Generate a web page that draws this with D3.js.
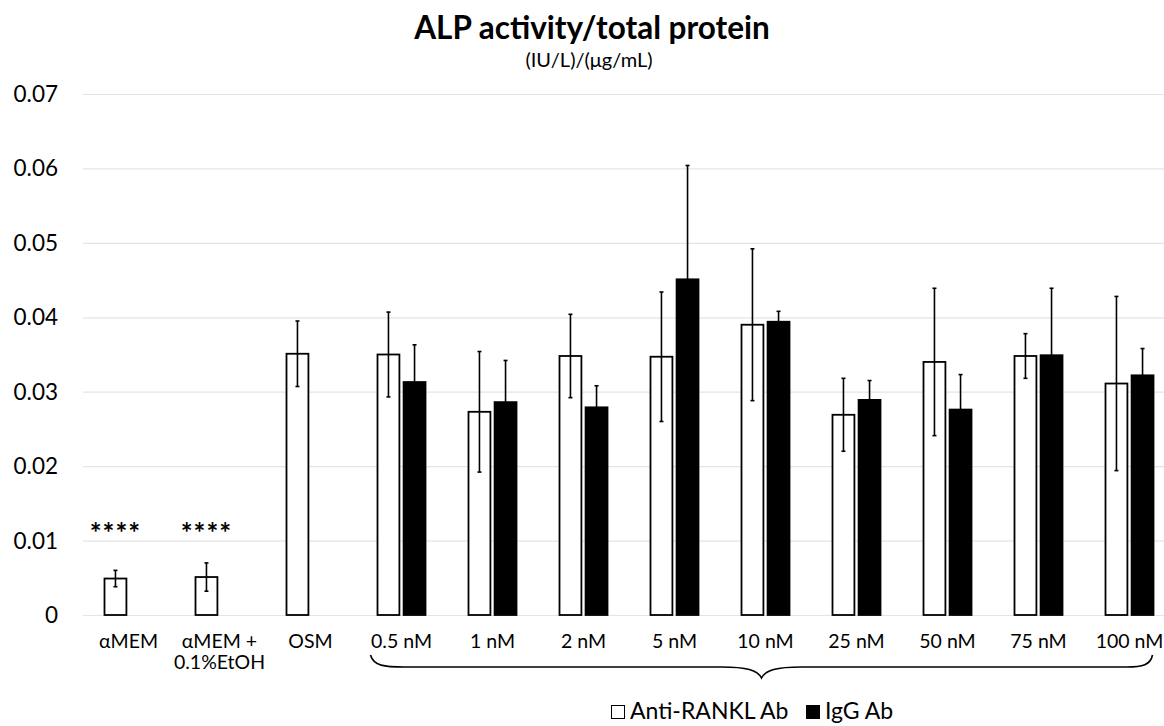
<!DOCTYPE html>
<html>
<head>
<meta charset="utf-8">
<script src="https://cdn.jsdelivr.net/npm/d3@7"></script>
<style>
  html, body { margin: 0; padding: 0; background: #fff; }
  svg { display: block; }
  text { font-family: Lato, "Open Sans", sans-serif; fill: #000; }
</style>
</head>
<body>
<svg id="chart" width="1164" height="726"></svg>
<script>
// ---- data ----
const categories = ["αMEM", "αMEM +\n0.1%EtOH", "OSM", "0.5 nM", "1 nM", "2 nM", "5 nM", "10 nM", "25 nM", "50 nM", "75 nM", "100 nM"];
const antiRANKL    = [0.0049, 0.0051, 0.0351, 0.0350, 0.0273, 0.0348, 0.0347, 0.0390, 0.0269, 0.0340, 0.0348, 0.0311];
const antiRANKLErr = [0.0011, 0.0019, 0.0044, 0.0057, 0.0081, 0.0056, 0.0087, 0.0102, 0.0049, 0.0099, 0.0030, 0.0117];
const igG          = [null, null, null, 0.0313, 0.0286, 0.0279, 0.0451, 0.0394, 0.0289, 0.0276, 0.0349, 0.0322];
const igGErr       = [null, null, null, 0.0050, 0.0056, 0.0029, 0.0153, 0.0014, 0.0026, 0.0047, 0.0090, 0.0036];
const yTicks = [0, 0.01, 0.02, 0.03, 0.04, 0.05, 0.06, 0.07];
const seriesNames = ["Anti-RANKL Ab", "IgG Ab"];
const significance = ["****", "****", null, null, null, null, null, null, null, null, null, null];

// ---- layout ----
const svg = d3.select("#chart");
const plotLeft = 83, plotRight = 1175, plotTop = 94, plotBottom = 615;

const x = d3.scaleBand().domain(categories).range([plotLeft, plotRight]).paddingInner(0).paddingOuter(0);
const xs = d3.scaleBand().domain(seriesNames).range([21.5, 69.5]).paddingInner(0.16);
const y = d3.scaleLinear().domain([0, 0.07]).range([plotBottom, plotTop]);

// gridlines
svg.append("g")
  .attr("transform", `translate(${plotLeft},0)`)
  .call(d3.axisLeft(y).tickValues(yTicks).tickSize(-(1164 - plotLeft)).tickFormat(""))
  .call(g => g.select(".domain").remove())
  .call(g => g.selectAll(".tick line").attr("stroke", "#e4e4e4").attr("stroke-width", 1.2));

// y tick labels
svg.append("g").selectAll("text").data(yTicks).join("text")
  .attr("x", 58).attr("y", d => y(d) + 8)
  .attr("text-anchor", "end")
  .style("font-size", "22.5px")
  .text(d => d === 0 ? "0" : d3.format(".2f")(d));

// rows
const rows = categories.map((c, i) => ({
  cat: c,
  vals: [
    { s: seriesNames[0], v: antiRANKL[i], e: antiRANKLErr[i] },
    { s: seriesNames[1], v: igG[i], e: igGErr[i] }
  ].filter(d => d.v != null)
}));

const groups = svg.append("g").selectAll("g").data(rows).join("g")
  .attr("transform", d => `translate(${x(d.cat)},0)`);

groups.selectAll("rect").data(d => d.vals).join("rect")
  .attr("x", d => xs(d.s))
  .attr("width", xs.bandwidth())
  .attr("y", d => y(d.v))
  .attr("height", d => y(0) - y(d.v))
  .attr("fill", d => d.s === seriesNames[0] ? "#fff" : "#000")
  .attr("stroke", "#000")
  .attr("stroke-width", 1.8);

// error bars
const eb = groups.selectAll("g.err").data(d => d.vals).join("g").attr("class", "err")
  .attr("transform", d => `translate(${xs(d.s) + xs.bandwidth() / 2},0)`);
eb.append("line")
  .attr("x1", 0).attr("x2", 0)
  .attr("y1", d => y(d.v + d.e)).attr("y2", d => y(d.v - d.e))
  .attr("stroke", "#000").attr("stroke-width", 1.6);
eb.selectAll("line.cap").data(d => [d.v + d.e, d.v - d.e]).join("line").attr("class", "cap")
  .attr("x1", -2).attr("x2", 2)
  .attr("y1", d => y(d)).attr("y2", d => y(d))
  .attr("stroke", "#000").attr("stroke-width", 1.6);

// significance asterisks
svg.append("g").selectAll("text").data(categories.map((c, i) => ({ c, s: significance[i] })).filter(d => d.s))
  .join("text")
  .attr("x", d => x(d.c) + xs(seriesNames[0]) + xs.bandwidth() / 2)
  .attr("y", 543)
  .attr("text-anchor", "middle")
  .style("font-size", "28px")
  .style("font-weight", "bold")
  .style("letter-spacing", "1px")
  .text(d => d.s);

// x labels
const xl = svg.append("g").selectAll("text").data(categories).join("text")
  .attr("x", d => x(d) + x.bandwidth() / 2)
  .attr("y", 648)
  .attr("text-anchor", "middle")
  .style("font-size", "19.5px");
xl.selectAll("tspan").data(d => d.split("\n").map((t, i) => ({ t, i, c: d }))).join("tspan")
  .attr("x", d => x(d.c) + x.bandwidth() / 2)
  .attr("dy", d => d.i === 0 ? 0 : 21)
  .text(d => d.t);

// brace under antibody concentrations
const bx0 = x("0.5 nM") + x.bandwidth() / 2 - 31;
const bx1 = x("100 nM") + x.bandwidth() / 2 + 23;
const bm = (bx0 + bx1) / 2;
const by = 667, byEnd = 655, byTip = 678;
const brace = d3.path();
brace.moveTo(bx0, byEnd);
brace.bezierCurveTo(bx0 + 3, by - 1, bx0 + 14, by, bx0 + 34, by);
brace.lineTo(bm - 40, by);
brace.bezierCurveTo(bm - 15, by, bm - 4, by + 3, bm, byTip);
brace.bezierCurveTo(bm + 4, by + 3, bm + 15, by, bm + 40, by);
brace.lineTo(bx1 - 26, by);
brace.bezierCurveTo(bx1 - 10, by, bx1 - 2, by - 2, bx1, byEnd);
svg.append("path").attr("d", brace.toString()).attr("fill", "none").attr("stroke", "#000").attr("stroke-width", 1.6);

// title
svg.append("text").attr("x", 592).attr("y", 39).attr("text-anchor", "middle")
  .style("font-size", "31.5px").style("font-weight", "bold").text("ALP activity/total protein");
svg.append("text").attr("x", 589).attr("y", 67).attr("text-anchor", "middle")
  .style("font-size", "20px").text("(IU/L)/(μg/mL)");

// legend
const legendX = [611, 806];
const lg = svg.append("g").selectAll("g").data(seriesNames).join("g")
  .attr("transform", (d, i) => `translate(${legendX[i]},0)`);
lg.append("rect").attr("x", 0.5).attr("y", 705.5).attr("width", 13).attr("height", 13)
  .attr("fill", (d, i) => i === 0 ? "#fff" : "#000").attr("stroke", "#000").attr("stroke-width", 1);
lg.append("text").attr("x", 19).attr("y", 719).style("font-size", "23px").text(d => d);
</script>
</body>
</html>
